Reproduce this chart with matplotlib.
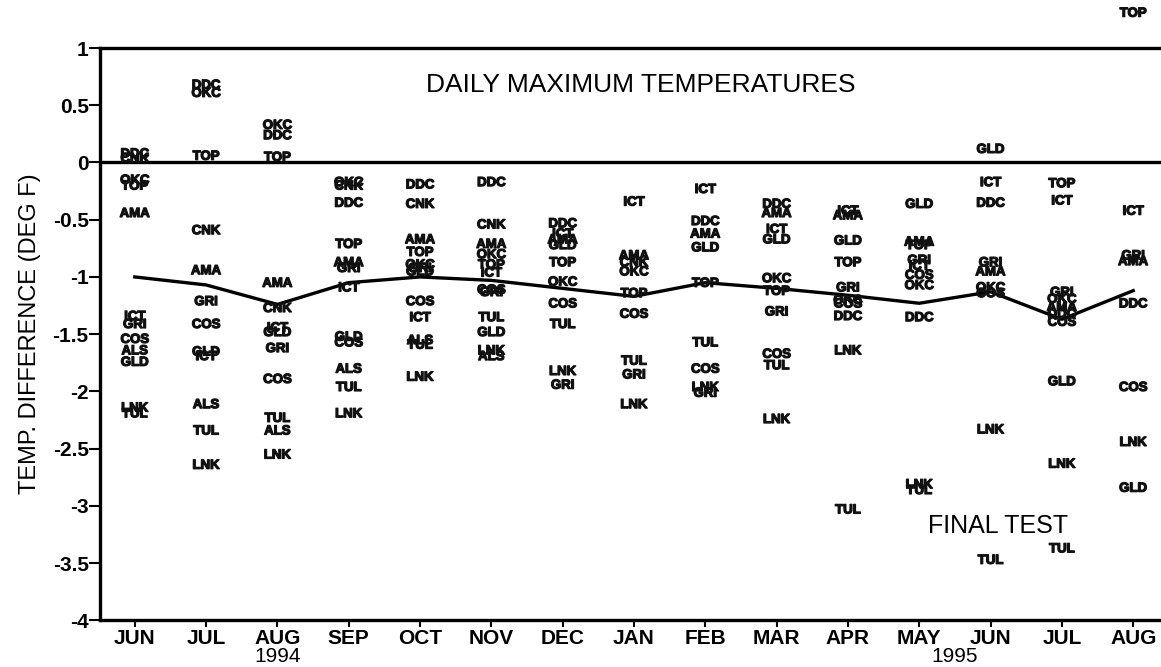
import numpy as np
import matplotlib
matplotlib.use('Agg')
import matplotlib.pyplot as plt
import matplotlib.patheffects as pe

plt.rcParams['font.family'] = ['Liberation Sans', 'DejaVu Sans']

months = ['JUN', 'JUL', 'AUG', 'SEP', 'OCT', 'NOV', 'DEC', 'JAN',
          'FEB', 'MAR', 'APR', 'MAY', 'JUN', 'JUL', 'AUG']
mean_diff = [-1.00, -1.07, -1.24, -1.05, -1.00, -1.03, -1.10, -1.17,
             -1.05, -1.10, -1.16, -1.23, -1.13, -1.37, -1.12]

# station labels and their values for each month
stations = [
    ['DDC', 'CNK', 'OKC', 'TOP', 'AMA', 'ICT', 'GRI', 'COS', 'ALS', 'GLD', 'LNK', 'TUL'],
    ['DDC', 'OKC', 'TOP', 'CNK', 'AMA', 'GRI', 'COS', 'GLD', 'ICT', 'ALS', 'TUL', 'LNK'],
    ['OKC', 'DDC', 'TOP', 'AMA', 'CNK', 'ICT', 'GLD', 'GRI', 'COS', 'TUL', 'ALS', 'LNK'],
    ['OKC', 'CNK', 'DDC', 'TOP', 'AMA', 'GRI', 'ICT', 'GLD', 'COS', 'ALS', 'TUL', 'LNK'],
    ['DDC', 'CNK', 'AMA', 'TOP', 'OKC', 'GRI', 'GLD', 'COS', 'ICT', 'ALS', 'TUL', 'LNK'],
    ['DDC', 'CNK', 'AMA', 'OKC', 'TOP', 'ICT', 'COS', 'GRI', 'TUL', 'GLD', 'LNK', 'ALS'],
    ['DDC', 'ICT', 'AMA', 'GLD', 'TOP', 'OKC', 'COS', 'TUL', 'LNK', 'GRI'],
    ['ICT', 'AMA', 'CNK', 'OKC', 'TOP', 'COS', 'TUL', 'GRI', 'LNK'],
    ['ICT', 'DDC', 'AMA', 'GLD', 'TOP', 'TUL', 'COS', 'LNK', 'GRI'],
    ['DDC', 'AMA', 'ICT', 'GLD', 'OKC', 'TOP', 'GRI', 'COS', 'TUL', 'LNK'],
    ['ICT', 'AMA', 'GLD', 'TOP', 'GRI', 'OKC', 'COS', 'DDC', 'LNK', 'TUL'],
    ['GLD', 'AMA', 'TOP', 'GRI', 'ICT', 'COS', 'OKC', 'DDC', 'LNK', 'TUL'],
    ['GLD', 'ICT', 'DDC', 'GRI', 'AMA', 'OKC', 'COS', 'LNK', 'TUL'],
    ['TOP', 'ICT', 'GRI', 'OKC', 'AMA', 'DDC', 'COS', 'GLD', 'LNK', 'TUL'],
    ['TOP', 'ICT', 'GRI', 'AMA', 'DDC', 'COS', 'LNK', 'GLD'],
]
values = [
    [0.07, 0.03, -0.16, -0.21, -0.45, -1.35, -1.42, -1.55, -1.65, -1.75, -2.15, -2.20],
    [0.67, 0.60, 0.05, -0.60, -0.95, -1.22, -1.42, -1.66, -1.70, -2.12, -2.35, -2.65],
    [0.32, 0.23, 0.04, -1.06, -1.28, -1.45, -1.49, -1.63, -1.90, -2.24, -2.35, -2.56],
    [-0.18, -0.21, -0.36, -0.72, -0.88, -0.93, -1.10, -1.53, -1.58, -1.81, -1.97, -2.20],
    [-0.20, -0.37, -0.68, -0.79, -0.90, -0.93, -0.96, -1.22, -1.36, -1.56, -1.60, -1.88],
    [-0.18, -0.55, -0.72, -0.81, -0.90, -0.97, -1.12, -1.14, -1.36, -1.49, -1.65, -1.70],
    [-0.54, -0.63, -0.68, -0.73, -0.88, -1.05, -1.24, -1.42, -1.83, -1.95],
    [-0.35, -0.82, -0.88, -0.96, -1.15, -1.33, -1.74, -1.86, -2.12],
    [-0.24, -0.52, -0.63, -0.75, -1.06, -1.58, -1.81, -1.97, -2.02],
    [-0.37, -0.45, -0.59, -0.68, -1.02, -1.13, -1.31, -1.68, -1.78, -2.25],
    [-0.43, -0.47, -0.69, -0.88, -1.10, -1.21, -1.24, -1.35, -1.65, -3.04],
    [-0.37, -0.70, -0.73, -0.86, -0.91, -0.99, -1.08, -1.36, -2.82, -2.87],
    [0.11, -0.18, -0.36, -0.88, -0.96, -1.10, -1.15, -2.34, -3.48],
    [-0.19, -0.34, -1.14, -1.20, -1.27, -1.33, -1.40, -1.92, -2.64, -3.38],
    [1.30, -0.43, -0.82, -0.87, -1.24, -1.97, -2.45, -2.85],
]

x = np.arange(len(months))

fig = plt.figure(figsize=(11.61, 6.67), dpi=100)
ax = fig.add_axes([0.086, 0.070, 0.914, 0.858])

ax.plot(x, mean_diff, color='black', lw=2.4, zorder=3)
ax.axhline(0, color='black', lw=2.4)

# thicken the small labels a bit, like the photocopied original
heavy = [pe.withStroke(linewidth=0.9, foreground='#111111')]
for i in range(len(months)):
    for name, v in zip(stations[i], values[i]):
        ax.text(x[i], v, name, ha='center', va='center', fontsize=9.5,
                fontweight='bold', color='#111111', clip_on=False, zorder=4,
                path_effects=heavy)

ax.text(7.1, 0.68, 'DAILY MAXIMUM TEMPERATURES', ha='center', va='center',
        fontsize=19)
ax.text(12.1, -3.18, 'FINAL TEST', ha='center', va='center', fontsize=18)

ax.set_xlim(-0.49, 14.39)
ax.set_ylim(-4, 1)
ax.set_xticks(x)
ax.set_xticklabels(months, fontsize=15, fontweight='bold')
ax.set_yticks(np.arange(-4, 1.01, 0.5))
ax.set_yticklabels(['-4', '-3.5', '-3', '-2.5', '-2', '-1.5', '-1', '-0.5',
                    '0', '0.5', '1'], fontsize=15, fontweight='bold')
ax.tick_params(axis='y', length=8, width=1.5, pad=0)
ax.tick_params(axis='x', length=5, width=1.5, pad=1)
ax.set_ylabel('TEMP. DIFFERENCE (DEG F)', fontsize=17, labelpad=8)

for s in ['left', 'bottom', 'top']:
    ax.spines[s].set_linewidth(2.4)
ax.spines['right'].set_visible(False)

fig.text(278 / 1161, 1 - 657 / 667, '1994', ha='center', va='center', fontsize=15)
fig.text(955 / 1161, 1 - 657 / 667, '1995', ha='center', va='center', fontsize=15)

plt.savefig('out.png', dpi=100)
